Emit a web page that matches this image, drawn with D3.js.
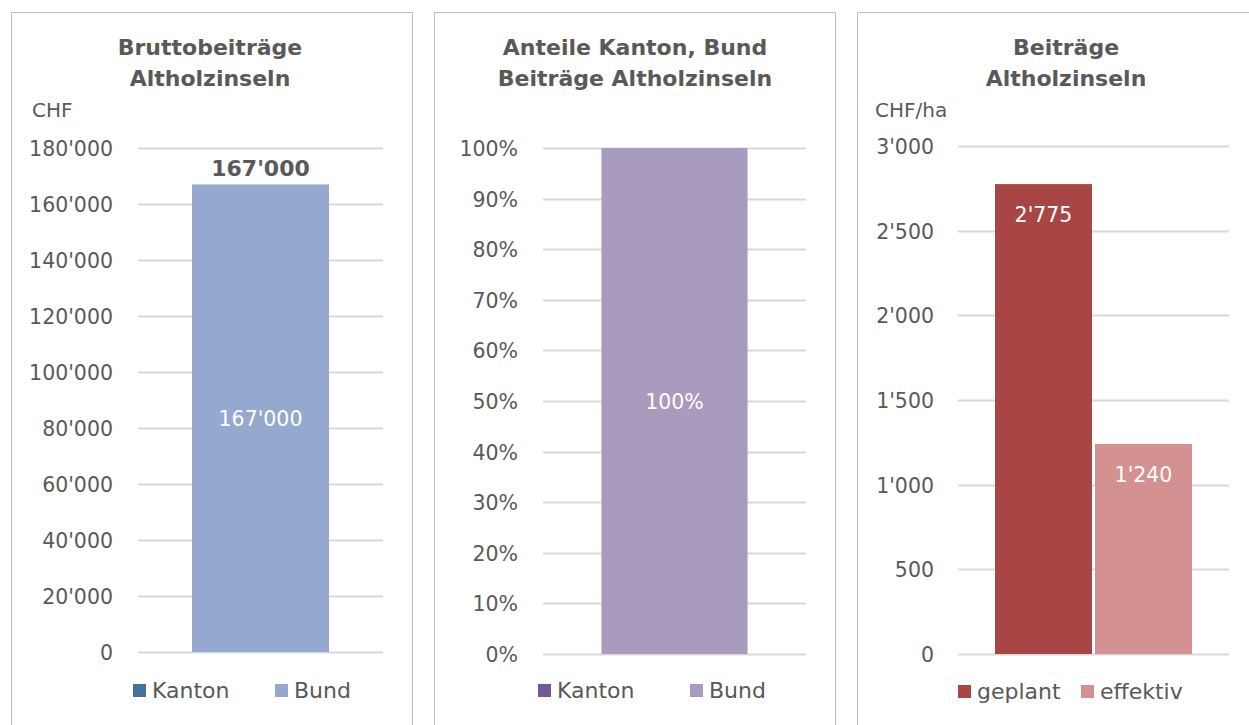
<!DOCTYPE html>
<html><head><meta charset="utf-8">
<script src="https://cdn.jsdelivr.net/npm/d3@7"></script>
<style>
body{margin:0;background:#fff;}
svg text{font-family:"DejaVu Sans",sans-serif;fill:#595959;}
</style></head>
<body>
<svg id="c" width="1249" height="725"></svg>
<script>
// Panel 1: Bruttobeiträge
const p1Series = ["Kanton", "Bund"];
const p1Values = [0, 167000];
const p1Ticks = [0, 20000, 40000, 60000, 80000, 100000, 120000, 140000, 160000, 180000];
const p1Total = 167000;
// Panel 2: Anteile
const p2Series = ["Kanton", "Bund"];
const p2Values = [0, 1.0];
const p2Ticks = [0, 0.1, 0.2, 0.3, 0.4, 0.5, 0.6, 0.7, 0.8, 0.9, 1.0];
// Panel 3: CHF/ha
const p3Series = ["geplant", "effektiv"];
const p3Values = [2775, 1240];
const p3Ticks = [0, 500, 1000, 1500, 2000, 2500, 3000];

const svg = d3.select("#c");
const fmt = d3.formatLocale({decimal: ".", thousands: "'", grouping: [3], currency: ["", ""]}).format(",.0f");
const pct = v => Math.round(v * 100) + "%";

// panel borders
[[11, 412], [434, 835], [857, 1262]].forEach(([a, b]) => {
  svg.append("rect").attr("x", a + 0.5).attr("y", 12.5).attr("width", b - a).attr("height", 730)
    .attr("fill", "none").attr("stroke", "#BFBFBF").attr("stroke-width", 1);
});

function title(cx, lines) {
  lines.forEach((t, i) => svg.append("text").attr("x", cx).attr("y", 55 + i * 31)
    .attr("text-anchor", "middle").style("font-weight", "700").style("font-size", "22px").text(t));
}

function grid(y, ticks, x0, x1, lx, f) {
  ticks.forEach(t => {
    svg.append("line").attr("x1", x0).attr("x2", x1).attr("y1", Math.round(y(t)) + 0.5).attr("y2", Math.round(y(t)) + 0.5)
      .attr("stroke", "#D9D9D9").attr("stroke-width", 2);
    svg.append("text").attr("x", lx).attr("y", y(t) + 8).attr("text-anchor", "end")
      .style("font-size", "20.5px").text(f(t));
  });
}

function legend(items, y) {
  items.forEach(([name, color, sx]) => {
    svg.append("rect").attr("x", sx).attr("y", y - 6).attr("width", 13).attr("height", 13).attr("fill", color);
    svg.append("text").attr("x", sx + 19).attr("y", y + 8).style("font-size", "22px").text(name);
  });
}

// ---- Panel 1
{
  const y = d3.scaleLinear().domain([0, 180000]).range([652, 148]);
  title(210, ["Bruttobeiträge", "Altholzinseln"]);
  svg.append("text").attr("x", 32).attr("y", 117).style("font-size", "20px").text("CHF");
  grid(y, p1Ticks, 138, 383, 113, fmt);
  const x = d3.scaleBand().domain(["a"]).range([138, 383]).paddingInner(0).paddingOuter(0.394);
  const colors = ["#46709F", "#95A9D0"];
  let acc = 0;
  p1Values.forEach((v, i) => {
    if (v > 0) {
      svg.append("rect").attr("x", x("a")).attr("width", x.bandwidth())
        .attr("y", y(acc + v)).attr("height", y(acc) - y(acc + v)).attr("fill", colors[i]);
      svg.append("text").attr("x", x("a") + x.bandwidth() / 2).attr("y", y(acc + v / 2) + 8)
        .attr("text-anchor", "middle").style("font-size", "20.5px").style("fill", "#fff").text(fmt(v));
    }
    acc += v;
  });
  svg.append("text").attr("x", x("a") + x.bandwidth() / 2).attr("y", y(p1Total) - 8)
    .attr("text-anchor", "middle").style("font-size", "22px").style("font-weight", "700").text(fmt(p1Total));
  legend([[p1Series[0], colors[0], 133], [p1Series[1], colors[1], 275]], 690);
}

// ---- Panel 2
{
  const y = d3.scaleLinear().domain([0, 1]).range([654, 148]);
  title(635, ["Anteile Kanton, Bund", "Beiträge Altholzinseln"]);
  grid(y, p2Ticks, 543, 806, 518, pct);
  const x = d3.scaleBand().domain(["a"]).range([543, 806]).paddingInner(0).paddingOuter(0.40);
  const colors = ["#745A95", "#A99BBE"];
  let acc = 0;
  p2Values.forEach((v, i) => {
    if (v > 0) {
      svg.append("rect").attr("x", x("a")).attr("width", x.bandwidth())
        .attr("y", y(acc + v)).attr("height", y(acc) - y(acc + v)).attr("fill", colors[i]);
      svg.append("text").attr("x", x("a") + x.bandwidth() / 2).attr("y", y(acc + v / 2) + 8)
        .attr("text-anchor", "middle").style("font-size", "20.5px").style("fill", "#fff").text(pct(v));
    }
    acc += v;
  });
  legend([[p2Series[0], colors[0], 538], [p2Series[1], colors[1], 690]], 690);
}

// ---- Panel 3
{
  const y = d3.scaleLinear().domain([0, 3000]).range([654, 146]);
  title(1066, ["Beiträge", "Altholzinseln"]);
  svg.append("text").attr("x", 875).attr("y", 117).style("font-size", "20px").text("CHF/ha");
  grid(y, p3Ticks, 958, 1229, 934, fmt);
  const x = d3.scaleBand().domain(p3Series).range([995, 1192]).paddingInner(0.03).paddingOuter(0);
  const colors = ["#A84646", "#D39191"];
  p3Series.forEach((s, i) => {
    const v = p3Values[i];
    svg.append("rect").attr("x", x(s)).attr("width", x.bandwidth())
      .attr("y", y(v)).attr("height", y(0) - y(v)).attr("fill", colors[i]);
    svg.append("text").attr("x", x(s) + x.bandwidth() / 2).attr("y", y(v) + 38)
      .attr("text-anchor", "middle").style("font-size", "20.5px").style("fill", "#fff").text(fmt(v));
  });
  legend([[p3Series[0], colors[0], 958], [p3Series[1], colors[1], 1081]], 691);
}
</script>
</body></html>
